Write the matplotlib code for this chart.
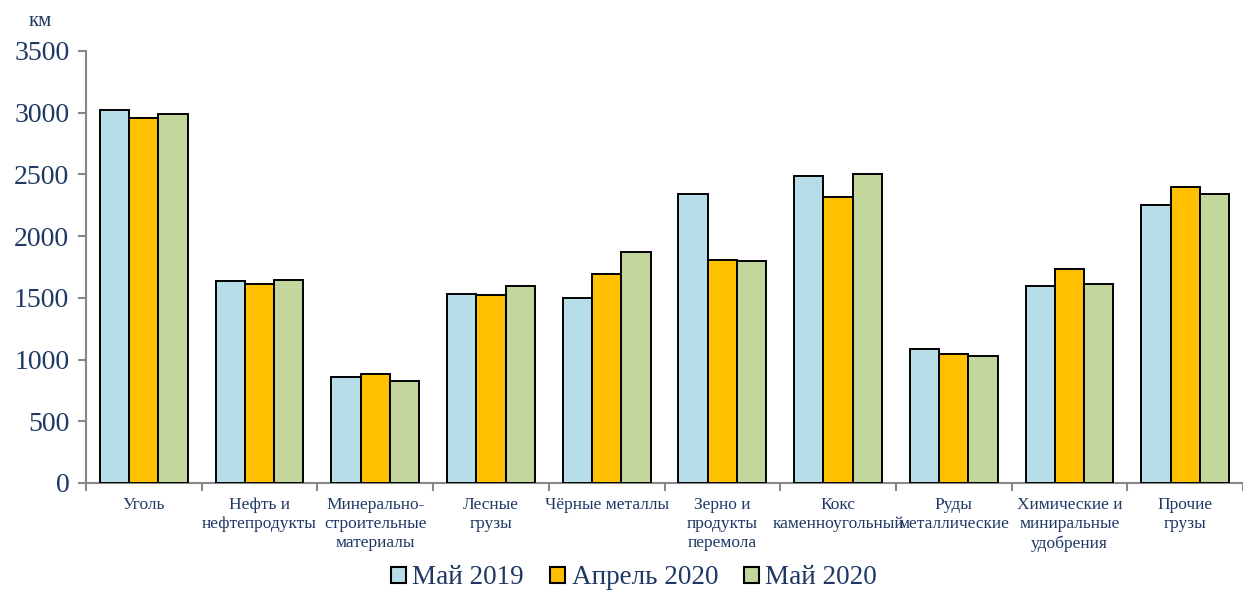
import matplotlib
matplotlib.use("Agg")
import matplotlib.pyplot as plt
import numpy as np
from matplotlib.patches import Patch

categories = ["Уголь", "Нефть и\nнефтепродукты", "Минерально-\nстроительные\nматериалы",
              "Лесные\nгрузы", "Чёрные металлы", "Зерно и\nпродукты\nперемола",
              "Кокс\nкаменноугольный", "Руды\nметаллические",
              "Химические и\nминиральные\nудобрения", "Прочие\nгрузы"]
series_names = ["Май 2019", "Апрель 2020", "Май 2020"]
may2019 = [3020, 1640, 860, 1535, 1500, 2340, 2490, 1088, 1600, 2250]
apr2020 = [2955, 1610, 880, 1525, 1690, 1805, 2315, 1042, 1735, 2395]
may2020 = [2987, 1645, 825, 1595, 1870, 1795, 2505, 1027, 1610, 2345]
yticks = [0, 500, 1000, 1500, 2000, 2500, 3000, 3500]

colors = ["#B7DEE8", "#FFC000", "#C3D69B"]
text_color = "#1F3864"
plt.rcParams['font.family'] = ['Liberation Serif', 'DejaVu Serif']

fig = plt.figure(figsize=(12.43, 5.90), dpi=100)
ax = fig.add_axes([86/1243, 1 - 483/590, 1 - 86/1243, (483 - 51)/590])

x = np.arange(len(categories))
w = 0.253
for i, (vals, c) in enumerate(zip([may2019, apr2020, may2020], colors)):
    ax.bar(x + (i - 1) * w, vals, width=w, color=c, edgecolor="black", linewidth=1.4, zorder=3)

ax.set_ylim(0, 3500)
ax.set_xlim(-0.5, (1243 - 86) / 116.5 - 0.5)
ax.set_yticks(yticks)
ax.set_yticklabels([str(v) for v in yticks], fontsize=20, color=text_color)
ax.tick_params(axis='y', length=6, width=1.5, color="#888888", pad=6)

ax.set_xticks(np.arange(len(categories) + 1) - 0.5)
ax.set_xticklabels([])
ax.tick_params(axis='x', which='major', length=6, width=1.5, color="#888888")
ax.set_xticks(x, minor=True)
ax.set_xticklabels(categories, minor=True, fontsize=12.5, color=text_color, linespacing=1.25)
ax.tick_params(axis='x', which='minor', length=0, pad=10)

for s in ["top", "right"]:
    ax.spines[s].set_visible(False)
for s in ["left", "bottom"]:
    ax.spines[s].set_color("#888888")
    ax.spines[s].set_linewidth(1.5)

fig.text(40/1243, 1 - 21/590, "км", fontsize=15, color=text_color, ha="center", va="center")

handles = [Patch(facecolor=c, edgecolor="black", linewidth=1.5) for c in colors]
fig.legend(handles, series_names, loc="center", bbox_to_anchor=(634/1243, 1 - 578/590),
           ncol=3, frameon=False, fontsize=19.5, handlelength=0.55, handleheight=0.55,
           handletextpad=0.25, columnspacing=0.95, labelcolor=text_color)

fig.savefig("out.png", dpi=100)
